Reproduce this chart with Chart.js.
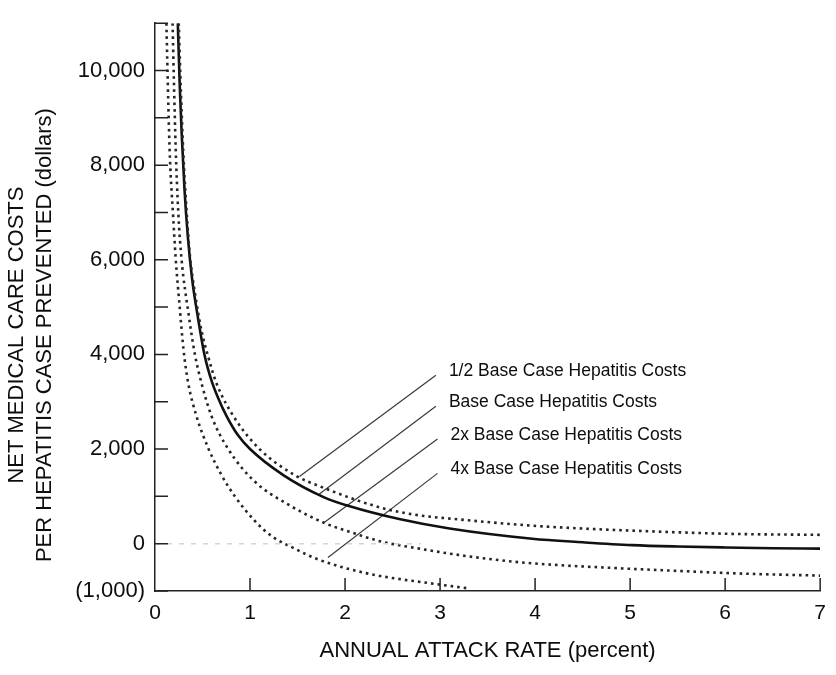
<!DOCTYPE html>
<html>
<head>
<meta charset="utf-8">
<title>Net medical care costs per hepatitis case prevented</title>
<script src="https://cdn.jsdelivr.net/npm/chart.js@4.4.1/dist/chart.umd.min.js"></script>
<style>
  html, body { margin: 0; padding: 0; background: #fff; }
  #wrap { width: 836px; height: 675px; }
</style>
</head>
<body>
<div id="wrap"><canvas id="costChart" width="836" height="675"></canvas></div>
<script>
// ----------------------------------------
// Net cost per hepatitis case prevented vs. annual attack rate
// Points are [attack rate (percent), net cost (dollars)]
// ----------------------------------------

const halfBaseCurve = [
    [0.25, 11000], [0.272, 9600], [0.297, 8300], [0.332, 7050], [0.367, 6100],
    [0.42, 5300], [0.49, 4500], [0.56, 3950], [0.647, 3390], [0.84, 2650],
    [1.10, 2000], [1.47, 1450], [1.75, 1200], [2.36, 770], [2.71, 620],
    [3.27, 500], [3.97, 380], [4.5, 320], [5.02, 276], [6.07, 207], [7.0, 187]
];

const baseCurve = [
    [0.24, 11000], [0.26, 9700], [0.28, 8700], [0.31, 7500], [0.345, 6500],
    [0.39, 5600], [0.45, 4800], [0.52, 4000], [0.594, 3450], [0.66, 3100],
    [0.752, 2700], [0.87, 2300], [1.0, 2000], [1.35, 1450], [1.78, 980],
    [2.05, 790], [2.57, 520], [3.1, 320], [3.97, 104], [4.5, 30],
    [5.02, -30], [5.5, -60], [6.0, -80], [6.5, -95], [7.0, -104]
];

const doubleBaseCurve = [
    [0.185, 11000], [0.2, 9700], [0.217, 8400], [0.245, 7000], [0.28, 6000],
    [0.35, 4900], [0.42, 4000], [0.49, 3390], [0.594, 2700], [0.77, 2000],
    [1.05, 1313], [1.40, 830], [1.78, 440], [2.05, 250], [2.39, 40],
    [2.78, -104], [3.1, -210], [3.5, -320], [3.97, -415], [4.88, -519],
    [5.5, -575], [6.07, -625], [7.0, -675]
];

const quadBaseCurve = [
    [0.12, 11000], [0.14, 9300], [0.157, 8150], [0.19, 6950], [0.217, 6050],
    [0.26, 5000], [0.30, 4100], [0.35, 3390], [0.436, 2700], [0.559, 2025],
    [0.70, 1450], [0.84, 1002], [1.05, 483], [1.22, 170], [1.47, -104],
    [1.70, -320], [2.22, -622], [3.0, -865], [3.3, -945]
];

// faint break-even reference
const zeroLine = [[0, 0], [2.8, 0]];

const seriesNames = [
    '1/2 Base Case Hepatitis Costs',
    'Base Case Hepatitis Costs',
    '2x Base Case Hepatitis Costs',
    '4x Base Case Hepatitis Costs'
];

// leader lines, [label end, curve end]
const leaderLines = [
    [[2.956, 3560], [1.52, 1420]],
    [[2.956, 2905], [1.73, 1050]],
    [[2.973, 2212], [1.78, 448]],
    [[2.973, 1486], [1.82, -290]]
];

const xTicks = [0, 1, 2, 3, 4, 5, 6, 7];
const yTicks = [-1000, 0, 1000, 2000, 3000, 4000, 5000, 6000, 7000, 8000, 9000, 10000, 11000];
const yLabelled = [-1000, 0, 2000, 4000, 6000, 8000, 10000];

const xTitle = 'ANNUAL ATTACK RATE (percent)';
const yTitle = ['NET MEDICAL CARE COSTS', 'PER HEPATITIS CASE PREVENTED (dollars)'];

const FONT = "'Liberation Sans', Arial, Helvetica, sans-serif";
const INK = '#0d0d0d';

const toPoints = arr => arr.map(([x, y]) => ({ x, y }));

function formatDollars(v) {
    const s = Math.abs(v).toLocaleString('en-US');
    return v < 0 ? `(${s})` : s;
}

// ----------------------------------------
// Inward tick marks, curve labels and the two-line y title
// ----------------------------------------
const overlayPlugin = {
    id: 'hepatitisOverlay',
    afterDraw(chart) {
        const { ctx, chartArea, scales } = chart;
        const xs = scales.x;
        const ys = scales.y;
        ctx.save();

        ctx.strokeStyle = '#222';
        ctx.lineWidth = 1.5;
        ctx.beginPath();
        yTicks.forEach(v => {
            const py = ys.getPixelForValue(v);
            ctx.moveTo(chartArea.left, py);
            ctx.lineTo(chartArea.left + 13, py);
        });
        xTicks.forEach(v => {
            if (v === 0) return;
            const px = xs.getPixelForValue(v);
            ctx.moveTo(px, chartArea.bottom);
            ctx.lineTo(px, chartArea.bottom - 13);
        });
        ctx.stroke();

        // curve labels sit just right of each leader line's upper end
        ctx.fillStyle = INK;
        ctx.font = `17.5px ${FONT}`;
        ctx.textAlign = 'left';
        ctx.textBaseline = 'middle';
        leaderLines.forEach(([top], i) => {
            const px = xs.getPixelForValue(top[0]);
            const py = ys.getPixelForValue(top[1]);
            ctx.fillText(seriesNames[i], px + 13, py - 4);
        });

        // y title, two rotated lines
        ctx.font = `22px ${FONT}`;
        ctx.textAlign = 'center';
        const cy = (chartArea.top + chartArea.bottom) / 2 + 28;
        ctx.translate(17, cy);
        ctx.rotate(-Math.PI / 2);
        ctx.fillText(yTitle[0], 0, 0);
        ctx.fillText(yTitle[1], 0, 28);

        ctx.restore();
    }
};

const dotted = {
    borderColor: '#262626',
    borderWidth: 2.6,
    borderDash: [2.6, 4],
    borderCapStyle: 'butt'
};

const datasets = [
    {
        label: 'zero',
        data: toPoints(zeroLine),
        borderColor: '#d4d4d4',
        borderWidth: 1.5,
        borderDash: [5, 7],
        tension: 0
    },
    { label: seriesNames[0], data: toPoints(halfBaseCurve), ...dotted },
    {
        label: seriesNames[1],
        data: toPoints(baseCurve),
        borderColor: '#111',
        borderWidth: 2.6
    },
    { label: seriesNames[2], data: toPoints(doubleBaseCurve), ...dotted },
    { label: seriesNames[3], data: toPoints(quadBaseCurve), ...dotted }
];

leaderLines.forEach((pair, i) => {
    datasets.push({
        label: 'leader ' + i,
        data: toPoints(pair),
        borderColor: '#3a3a3a',
        borderWidth: 1.2,
        tension: 0,
        cubicInterpolationMode: 'default'
    });
});

Chart.defaults.font.family = FONT;
Chart.defaults.color = INK;

new Chart(document.getElementById('costChart'), {
    type: 'line',
    data: { datasets },
    options: {
        responsive: false,
        animation: false,
        elements: {
            point: { radius: 0, hoverRadius: 0 },
            line: { cubicInterpolationMode: 'monotone', fill: false }
        },
        layout: { padding: { top: 13, right: 13, left: 0, bottom: 0 } },
        plugins: {
            legend: { display: false },
            tooltip: { enabled: false }
        },
        scales: {
            x: {
                type: 'linear',
                min: 0,
                max: 7,
                afterBuildTicks: scale => {
                    scale.ticks = xTicks.map(value => ({ value }));
                },
                afterFit: scale => { scale.height = 84; },
                grid: { display: false, drawTicks: false },
                border: { display: true, color: '#222', width: 1.5 },
                ticks: {
                    autoSkip: false,
                    maxRotation: 0,
                    padding: 10,
                    color: INK,
                    font: { size: 21 },
                    callback: v => String(v)
                },
                title: {
                    display: true,
                    text: xTitle,
                    color: INK,
                    font: { size: 22 },
                    padding: { top: 0, bottom: 11 }
                }
            },
            y: {
                type: 'linear',
                min: -1000,
                max: 11000,
                afterBuildTicks: scale => {
                    scale.ticks = yTicks.map(value => ({ value }));
                },
                afterFit: scale => { scale.width = 155; },
                grid: { display: false, drawTicks: false },
                border: { display: true, color: '#222', width: 1.5 },
                ticks: {
                    autoSkip: false,
                    padding: 10,
                    color: INK,
                    font: { size: 22 },
                    callback: v => (yLabelled.includes(v) ? formatDollars(v) : '')
                }
            }
        }
    },
    plugins: [overlayPlugin]
});
</script>
</body>
</html>
